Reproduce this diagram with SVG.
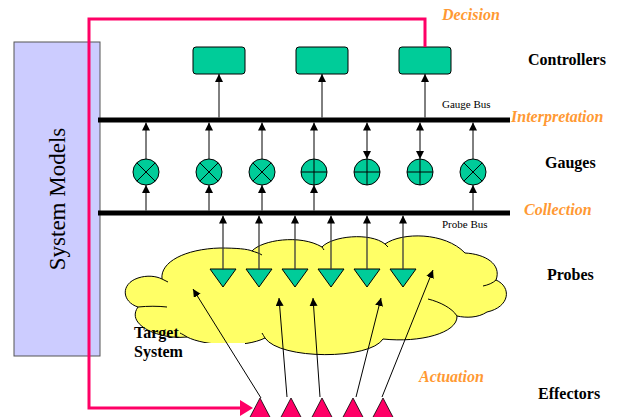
<svg xmlns="http://www.w3.org/2000/svg" width="618" height="417" viewBox="0 0 618 417">
  <style>
    .serif { font-family: "Liberation Serif", "Times New Roman", serif; }
    .layer { font-size: 16px; font-weight: bold; fill: #000; }
    .stage { font-size: 16px; font-weight: bold; font-style: italic; fill: #FF9933; }
    .bus-label { font-size: 11px; fill: #000; }
    .bus { stroke: #000; stroke-width: 5; }
    .ctrl { fill: #00CC99; stroke: #000; stroke-width: 1; }
    .gauge circle { fill: #00CC99; stroke: #000; stroke-width: 1; }
    .gauge line { stroke: #000; stroke-width: 1; }
    .probe { fill: #00CC99; stroke: #000; stroke-width: 1; }
    .effector { fill: #FF0066; stroke: #000; stroke-width: 0.8; }
    .conn { stroke: #000; stroke-width: 1; fill: none; }
    .probe-conn { stroke: #3a3a3a; stroke-width: 1.3; fill: none; }
    .cloud-edge { fill: none; stroke: #000; stroke-width: 1; }
  </style>
  <defs>
    <marker id="arr" viewBox="0 0 10 10" refX="10" refY="5" markerWidth="8" markerHeight="8" markerUnits="userSpaceOnUse" orient="auto-start-reverse">
      <path d="M0,0 L10,5 L0,10 z" fill="#000"/>
    </marker>
  </defs>

  <rect width="618" height="417" fill="#fff"/>

  <!-- System models panel -->
  <g id="system-models">
    <rect x="14" y="42" width="86" height="314" fill="#CCCCFF" stroke="#555" stroke-width="1"/>
    <text class="serif" font-size="23" transform="translate(65,199) rotate(-90)" text-anchor="middle">System Models</text>
  </g>

  <!-- Target system cloud -->
  <g id="target-system">
    <path d="M138,307 C122,302 120,284 138,278 C147,275 156,276 162,279 C160,262 185,249 220,248 C236,248 248,249 252,251 C262,240 300,234 322,247 C332,236 370,232 385,244 C402,232 445,232 465,253 C485,254 502,264 496,280 C512,287 510,307 487,312 C478,318 466,318 457,316 C458,333 420,343 383,339 C370,360 280,360 265,338 C245,348 205,346 187,337 C160,340 125,325 138,307 Z" fill="#FFFF66" stroke="#000" stroke-width="1"/>
    <path class="cloud-edge" d="M162,279 C164,280 166,281 168,282"/>
    <path class="cloud-edge" d="M252,251 C255,252 259,253 262,255"/>
    <path class="cloud-edge" d="M322,247 C323,248 323,249 324,250"/>
    <path class="cloud-edge" d="M385,244 C386,245 387,246 388,247"/>
    <path class="cloud-edge" d="M496,280 C493,283 488,285 483,286"/>
    <path class="cloud-edge" d="M428,299 C440,302 452,308 457,316"/>
    <path class="cloud-edge" d="M138,307 C148,306 158,306 167,307"/>
    <path class="cloud-edge" d="M187,337 C184,335 182,334 180,333"/>
    <path class="cloud-edge" d="M265,338 C264,336 263,335 262,333"/>
    <rect x="130" y="343" width="115" height="20" fill="#fff"/>
    <text class="serif layer" x="134" y="338">Target</text>
    <text class="serif layer" x="134" y="357">System</text>
  </g>

  <!-- Buses -->
  <g id="gauge-bus">
    <line class="bus" x1="98" y1="120" x2="510" y2="120"/>
    <text class="serif bus-label" x="442" y="108">Gauge Bus</text>
  </g>
  <g id="probe-bus">
    <line class="bus" x1="98" y1="213" x2="510" y2="213"/>
    <text class="serif bus-label" x="442" y="228">Probe Bus</text>
  </g>

  <!-- Controllers -->
  <g id="controller-1"><rect class="ctrl" x="193" y="47" width="52" height="27" rx="3"/></g>
  <g id="controller-2"><rect class="ctrl" x="296" y="47" width="52" height="27" rx="3"/></g>
  <g id="controller-3"><rect class="ctrl" x="399" y="47" width="52" height="27" rx="3"/></g>

  <!-- Gauges -->
  <g id="gauge-1" class="gauge"><circle cx="146" cy="172" r="13"/><line x1="136.8" y1="162.8" x2="155.2" y2="181.2"/><line x1="136.8" y1="181.2" x2="155.2" y2="162.8"/></g>
  <g id="gauge-2" class="gauge"><circle cx="209" cy="172" r="13"/><line x1="199.8" y1="162.8" x2="218.2" y2="181.2"/><line x1="199.8" y1="181.2" x2="218.2" y2="162.8"/></g>
  <g id="gauge-3" class="gauge"><circle cx="262" cy="172" r="13"/><line x1="252.8" y1="162.8" x2="271.2" y2="181.2"/><line x1="252.8" y1="181.2" x2="271.2" y2="162.8"/></g>
  <g id="gauge-4" class="gauge"><circle cx="314" cy="172" r="13"/><line x1="301" y1="172" x2="327" y2="172"/><line x1="314" y1="159" x2="314" y2="185"/></g>
  <g id="gauge-5" class="gauge"><circle cx="367" cy="172" r="13"/><line x1="354" y1="172" x2="380" y2="172"/><line x1="367" y1="159" x2="367" y2="185"/></g>
  <g id="gauge-6" class="gauge"><circle cx="420" cy="172" r="13"/><line x1="407" y1="172" x2="433" y2="172"/><line x1="420" y1="159" x2="420" y2="185"/></g>
  <g id="gauge-7" class="gauge"><circle cx="473" cy="172" r="13"/><line x1="463.8" y1="162.8" x2="482.2" y2="181.2"/><line x1="463.8" y1="181.2" x2="482.2" y2="162.8"/></g>

  <!-- Probes -->
  <g id="probe-1"><polygon class="probe" points="210,269 236,269 223,287"/></g>
  <g id="probe-2"><polygon class="probe" points="246,269 272,269 259,287"/></g>
  <g id="probe-3"><polygon class="probe" points="282,269 308,269 295,287"/></g>
  <g id="probe-4"><polygon class="probe" points="318,269 344,269 331,287"/></g>
  <g id="probe-5"><polygon class="probe" points="354,269 380,269 367,287"/></g>
  <g id="probe-6"><polygon class="probe" points="390,269 416,269 403,287"/></g>

  <!-- Effectors -->
  <g id="effector-1"><polygon class="effector" points="260,398 249,419 271,419"/></g>
  <g id="effector-2"><polygon class="effector" points="291,398 280,419 302,419"/></g>
  <g id="effector-3"><polygon class="effector" points="322,398 311,419 333,419"/></g>
  <g id="effector-4"><polygon class="effector" points="353,398 342,419 364,419"/></g>
  <g id="effector-5"><polygon class="effector" points="383,398 372,419 394,419"/></g>

  <!-- Connectors -->
  <g id="connectors">
    <!-- gauge bus to controllers -->
    <line class="conn" x1="219" y1="117.5" x2="219" y2="74" marker-end="url(#arr)"/>
    <line class="conn" x1="322" y1="117.5" x2="322" y2="74" marker-end="url(#arr)"/>
    <line class="conn" x1="425" y1="117.5" x2="425" y2="74" marker-end="url(#arr)"/>

    <!-- gauges to gauge bus -->
    <line class="conn" x1="146" y1="159" x2="146" y2="122.5" marker-end="url(#arr)"/>
    <line class="conn" x1="209" y1="159" x2="209" y2="122.5" marker-end="url(#arr)"/>
    <line class="conn" x1="262" y1="159" x2="262" y2="122.5" marker-end="url(#arr)"/>
    <line class="conn" x1="314" y1="159" x2="314" y2="122.5" marker-end="url(#arr)"/>
    <line class="conn" x1="367" y1="159" x2="367" y2="122.5" marker-start="url(#arr)" marker-end="url(#arr)"/>
    <line class="conn" x1="420" y1="159" x2="420" y2="122.5" marker-start="url(#arr)" marker-end="url(#arr)"/>
    <line class="conn" x1="473" y1="159" x2="473" y2="122.5" marker-end="url(#arr)"/>

    <!-- probe bus to gauges -->
    <line class="conn" x1="146" y1="210.5" x2="146" y2="185" marker-end="url(#arr)"/>
    <line class="conn" x1="209" y1="210.5" x2="209" y2="185" marker-end="url(#arr)"/>
    <line class="conn" x1="262" y1="210.5" x2="262" y2="185" marker-end="url(#arr)"/>
    <line class="conn" x1="314" y1="210.5" x2="314" y2="185" marker-end="url(#arr)"/>
    <line class="conn" x1="473" y1="210.5" x2="473" y2="185" marker-end="url(#arr)"/>

    <!-- probes to probe bus -->
    <line class="probe-conn" x1="223" y1="270" x2="223" y2="215.5" marker-end="url(#arr)"/>
    <line class="probe-conn" x1="259" y1="270" x2="259" y2="215.5" marker-end="url(#arr)"/>
    <line class="probe-conn" x1="295" y1="270" x2="295" y2="215.5" marker-end="url(#arr)"/>
    <line class="probe-conn" x1="331" y1="270" x2="331" y2="215.5" marker-end="url(#arr)"/>
    <line class="probe-conn" x1="367" y1="270" x2="367" y2="215.5" marker-end="url(#arr)"/>
    <line class="probe-conn" x1="403" y1="270" x2="403" y2="215.5" marker-end="url(#arr)"/>

    <!-- effectors acting on the target system -->
    <line class="conn" x1="261" y1="398" x2="193" y2="289" marker-end="url(#arr)"/>
    <line class="conn" x1="287" y1="397" x2="279" y2="298" marker-end="url(#arr)"/>
    <line class="conn" x1="320" y1="397" x2="313" y2="298" marker-end="url(#arr)"/>
    <line class="conn" x1="356" y1="397" x2="381" y2="298" marker-end="url(#arr)"/>
    <line class="conn" x1="382" y1="397" x2="433" y2="270" marker-end="url(#arr)"/>

    <!-- decision loop: controller back through the models to the effectors -->
    <polyline points="425,47 425,19 89,19 89,408 241,408" fill="none" stroke="#FF0066" stroke-width="3"/>
    <polygon points="240,400 253,408 240,416" fill="#FF0066"/>
  </g>

  <!-- Layer and stage labels -->
  <g id="labels" class="serif">
    <text class="stage" x="442" y="20">Decision</text>
    <text class="layer" x="528" y="65">Controllers</text>
    <text class="stage" x="511" y="122">Interpretation</text>
    <text class="layer" x="545" y="168">Gauges</text>
    <text class="stage" x="524" y="215">Collection</text>
    <text class="layer" x="547" y="280">Probes</text>
    <text class="stage" x="419" y="382">Actuation</text>
    <text class="layer" x="538" y="399">Effectors</text>
  </g>
</svg>
